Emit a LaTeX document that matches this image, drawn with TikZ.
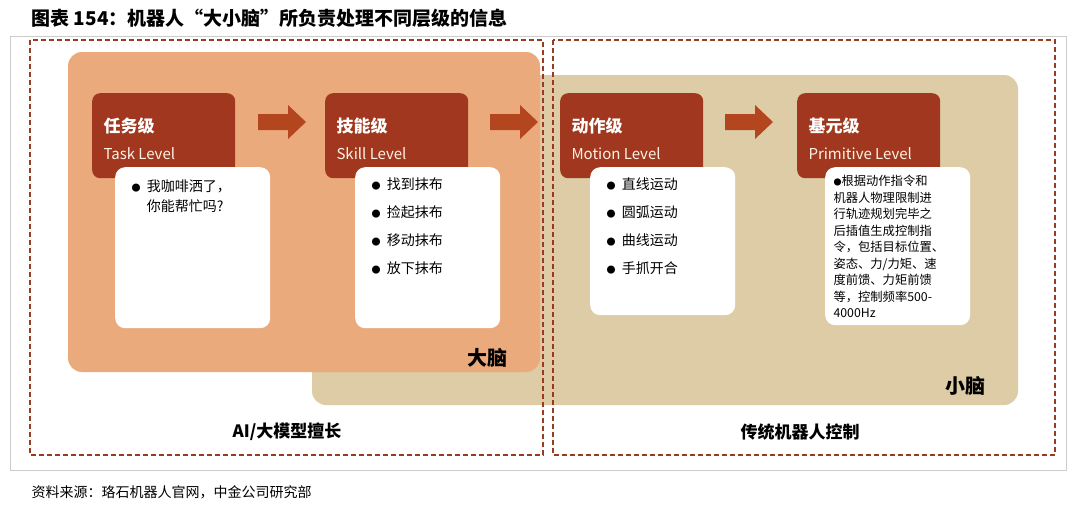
\documentclass[tikz,border=0pt]{standalone}
\usepackage{fontspec}
\setmainfont{Noto Sans CJK SC}
\definecolor{hdr}{HTML}{A0371E}
\definecolor{org}{HTML}{EBAA7C}
\definecolor{tan}{HTML}{DDCCA6}
\definecolor{arr}{HTML}{B4461F}
\definecolor{dash}{HTML}{9A3A22}
\newcommand{\bul}{{\fontsize{9}{9}\selectfont ●}}
\tikzset{
 hbox/.style={fill=hdr,rounded corners=8pt,minimum width=143pt,minimum height=85pt,anchor=north west,inner sep=0pt},
 wbox/.style={fill=white,rounded corners=10pt,anchor=north west,inner sep=0pt},
 htext/.style={text=white,anchor=west,font=\fontsize{17}{20}\selectfont\bfseries},
 etext/.style={text=white!90!orange,anchor=west,font=\fontsize{15}{18}\selectfont},
 blkpt/.style={inner sep=0pt,minimum size=0pt},
 item/.style={anchor=north west,align=left,font=\fontsize{14}{28}\selectfont},
 dbox/.style={draw=dash,dashed,line width=1.5pt,dash pattern=on 5pt off 3pt},
 big/.style={font=\fontsize{20}{24}\selectfont\bfseries}
}
\newcommand{\blkarrow}[2]{% center x, y
 \fill[arr] (#1-24,#2-8) -- (#1+6,#2-8) -- (#1+6,#2-17) -- (#1+24,#2) -- (#1+6,#2+17) -- (#1+6,#2+8) -- (#1-24,#2+8) -- cycle;}
\begin{document}
\begin{tikzpicture}[x=1pt,y=-1pt]
\useasboundingbox (0,0) rectangle (1080,504);
\fill[white] (0,0) rectangle (1080,504);
\draw[gray!40,line width=0.8pt] (10,36) rectangle (1066,470);
\node[anchor=west,font=\fontsize{19}{22}\selectfont\bfseries] (title) at (28,18) {图表 154：机器人“大小脑”所负责处理不同层级的信息};
\fill[tan,rounded corners=14pt] (312,75) rectangle (1018,405);
\fill[org,rounded corners=14pt] (68,52) rectangle (540,372);
\draw[dbox] (30,40) rectangle (543,455);
\draw[dbox] (553,40) rectangle (1055,455);
\node[hbox] (h1) at (92,93) {};
\node[hbox] (h2) at (325,93) {};
\node[hbox] (h3) at (560,93) {};
\node[hbox] (h4) at (797,93) {};
\foreach \n/\c/\e in {h1/任务级/Task Level,h2/技能级/Skill Level,h3/动作级/Motion Level,h4/基元级/Primitive Level}{
 \node[htext] at ([xshift=8pt,yshift=-33pt]\n.north west) {\c};
 \node[etext] at ([xshift=8pt,yshift=-61pt]\n.north west) {\e};
}
\node[wbox,minimum width=155pt,minimum height=161pt] (w1) at (115,167) {};
\node[wbox,minimum width=145pt,minimum height=161pt] (w2) at (355,167) {};
\node[wbox,minimum width=145pt,minimum height=148pt] (w3) at (590,167) {};
\node[wbox,minimum width=145pt,minimum height=158pt] (w4) at (825,167) {};
\node[item,font=\fontsize{14}{20}\selectfont] at (128,176) {\bul\ \ 我咖啡洒了，\\\hphantom{\bul\ \ }你能帮忙吗?};
\node[item] at (368,174) {\bul\ \ 找到抹布\\\bul\ \ 捡起抹布\\\bul\ \ 移动抹布\\\bul\ \ 放下抹布};
\node[item] at (603,174) {\bul\ \ 直线运动\\\bul\ \ 圆弧运动\\\bul\ \ 曲线运动\\\bul\ \ 手抓开合};
\node[item,font=\fontsize{12.3}{16.5}\selectfont] at (830,172) {{\fontsize{8}{8}\selectfont ●}根据动作指令和\\机器人物理限制进\\行轨迹规划完毕之\\后插值生成控制指\\令，包括目标位置、\\姿态、力/力矩、速\\度前馈、力矩前馈\\等，控制频率500-\\4000Hz};
\blkarrow{282}{122}
\blkarrow{514}{122}
\blkarrow{749}{122}
\node[big] (db) at (487,358) {大脑};
\node[big] (xb) at (965,386) {小脑};
\node[font=\fontsize{17}{20}\selectfont\bfseries] (ai) at (287,432) {AI/大模型擅长};
\node[font=\fontsize{17}{20}\selectfont\bfseries] (ct) at (800,432) {传统机器人控制};
\node[anchor=west,font=\fontsize{14}{17}\selectfont] (src) at (28,492) {资料来源：珞石机器人官网，中金公司研究部};
\end{tikzpicture}
\end{document}
